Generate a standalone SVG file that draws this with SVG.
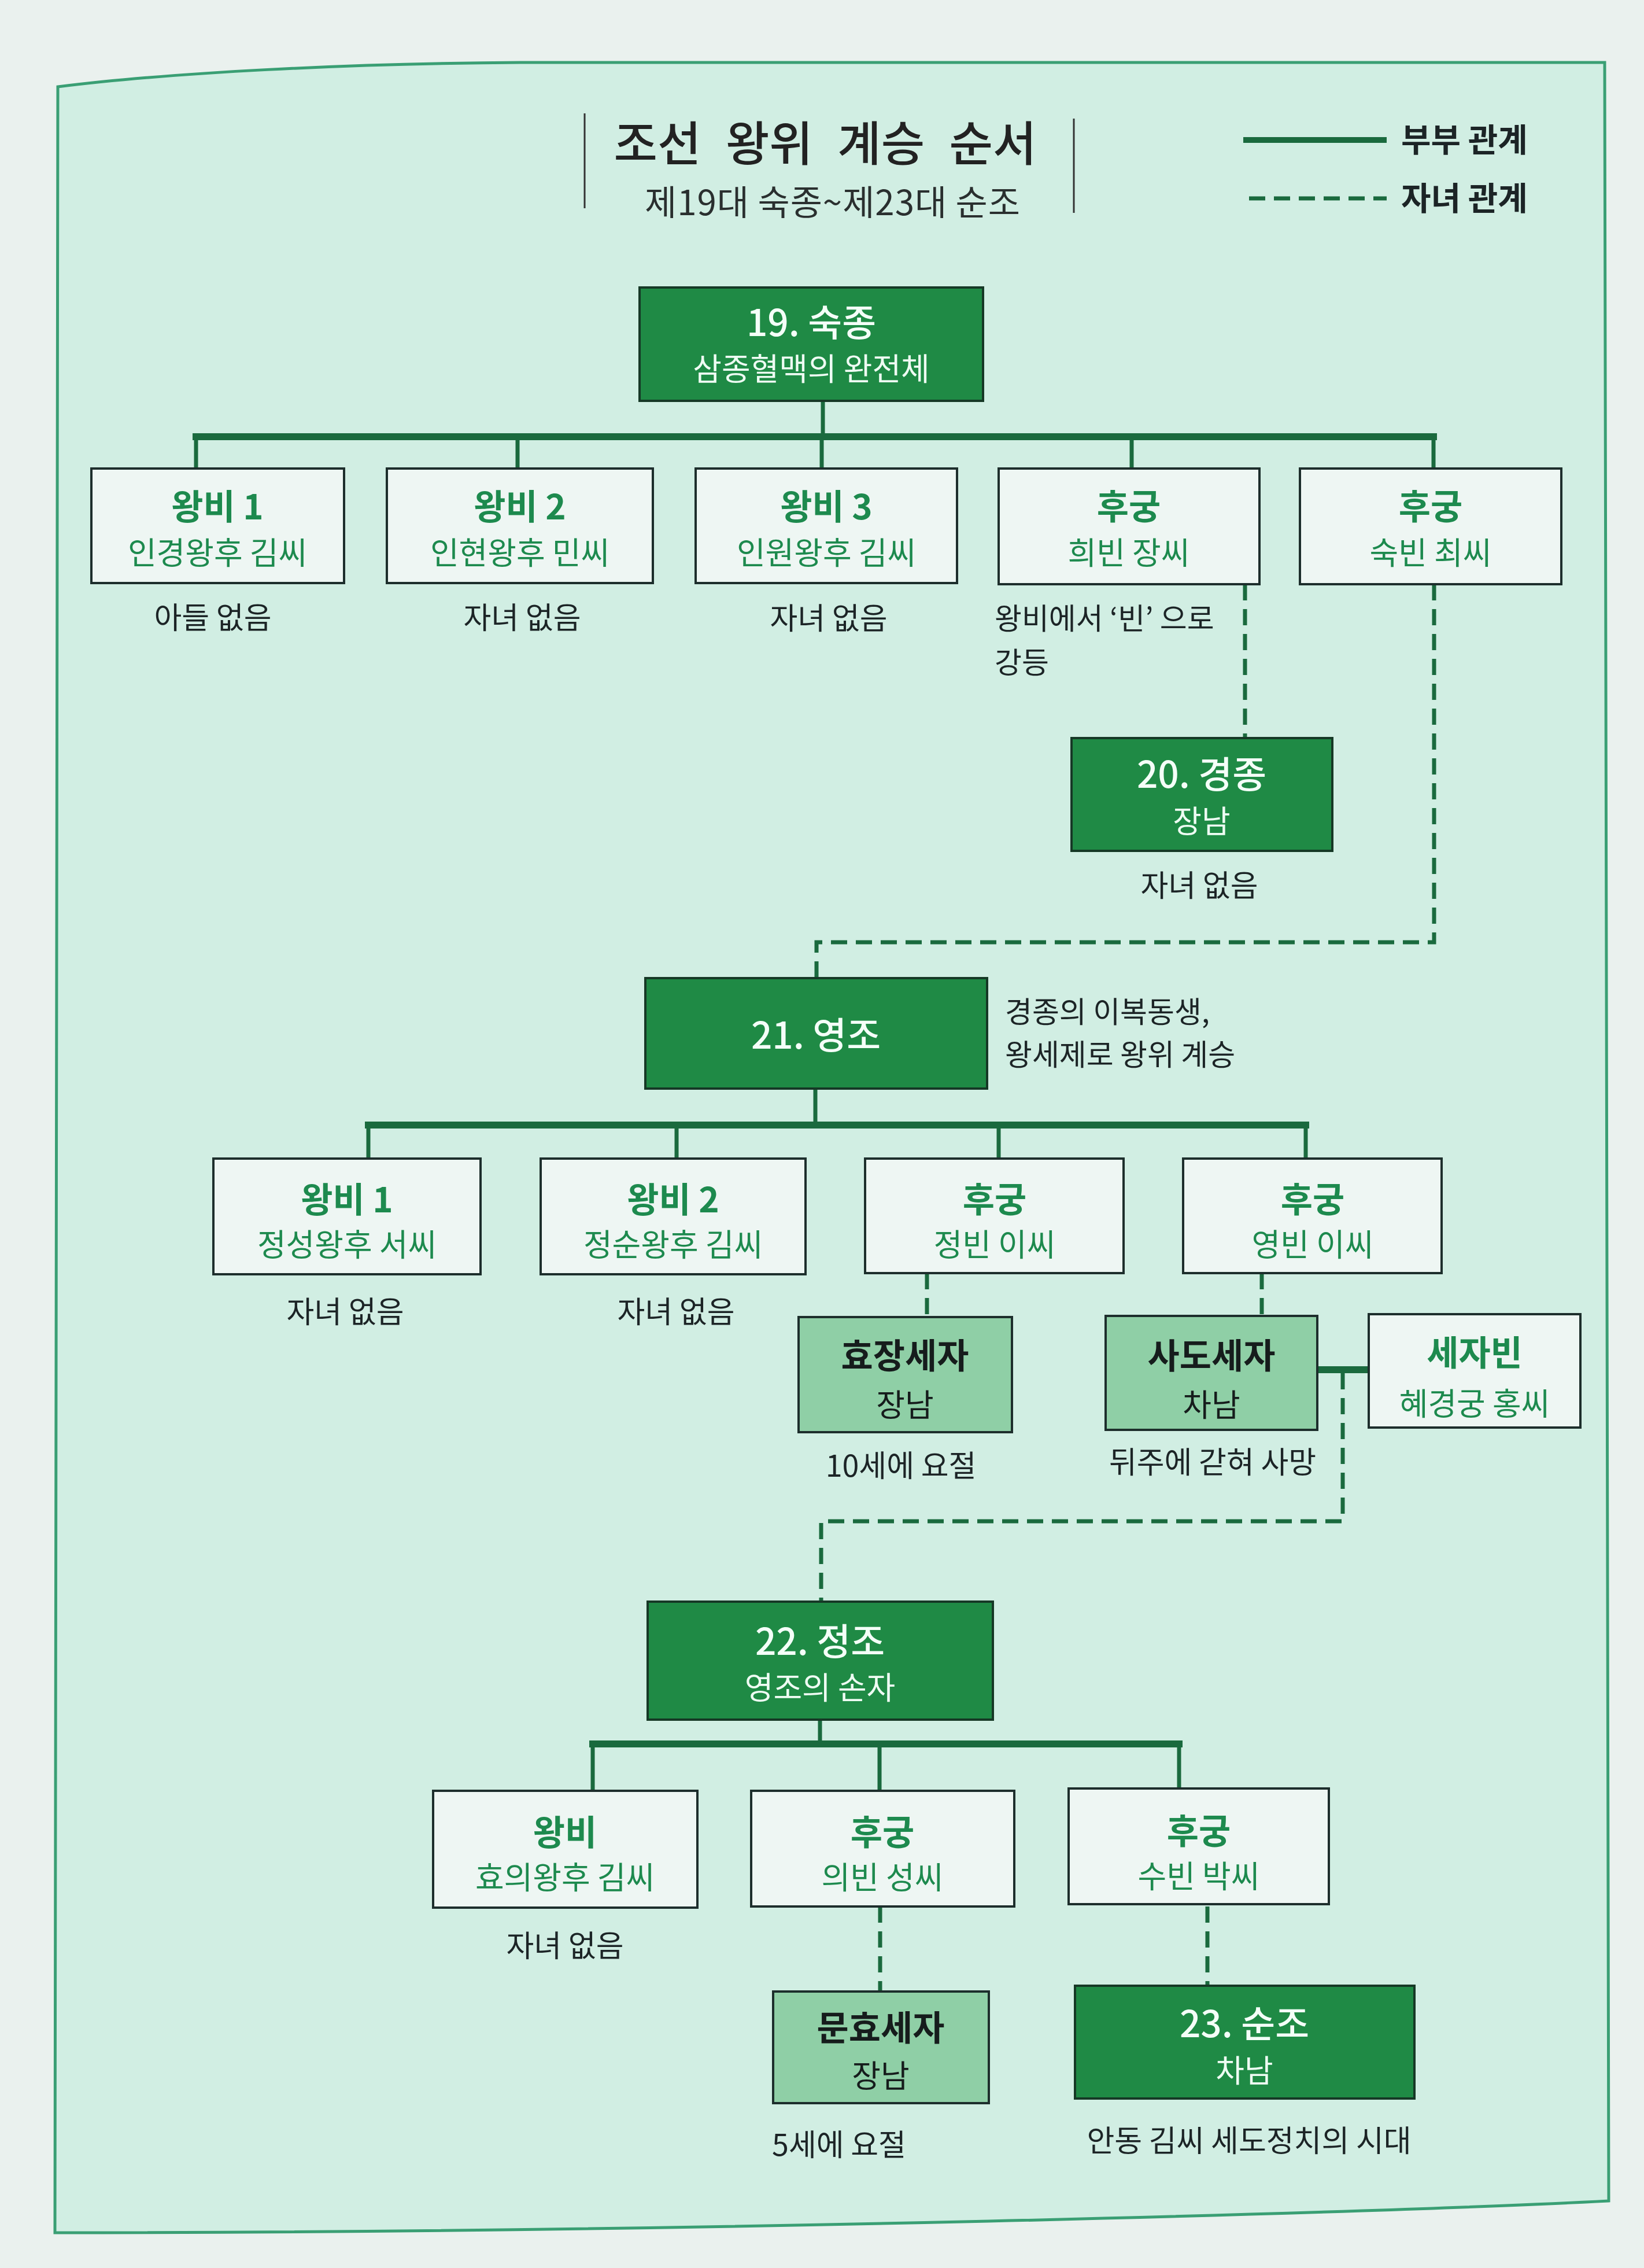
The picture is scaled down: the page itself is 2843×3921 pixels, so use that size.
<svg xmlns="http://www.w3.org/2000/svg" width="2843" height="3921" viewBox="0 0 2843 3921">
<style>
text{font-family:"Noto Sans CJK KR","Noto Sans",sans-serif}
.bw{fill:#eef6f3;stroke:#1d2e2c;stroke-width:4}
.bd{fill:#1f8a45;stroke:#163826;stroke-width:4}
.bl{fill:#8fcfa6;stroke:#1d2e2c;stroke-width:4}
.tg{fill:#1d8a4e;text-anchor:middle;font-size:60px;font-weight:700}
.sg{fill:#1d8a4e;text-anchor:middle;font-size:54px}
.tw{fill:#f4fff8;text-anchor:middle;font-size:64px;font-weight:500}
.sw{fill:#eefcf3;text-anchor:middle;font-size:54px}
.tk{fill:#161c1c;text-anchor:middle;font-size:60px;font-weight:700}
.sk{fill:#161c1c;text-anchor:middle;font-size:54px}
.note{fill:#1c2426;font-size:52px}
.n2{fill:#1c2426;font-size:51px}
.c{text-anchor:middle}
.solid{stroke:#1a6a3e;stroke-width:7;fill:none}
.bar{stroke:#1a6a3e;stroke-width:12;fill:none}
.dash{stroke:#1a6a3e;stroke-width:7;fill:none;stroke-dasharray:28 15}
</style>
<rect x="0" y="0" width="2843" height="3921" fill="#eaf1ee"/>
<path d="M100 150 C300 125 600 110 900 108 L2775 108 L2782 3805 C2400 3825 1200 3860 95 3860 Z" fill="#d1eee3" stroke="#3a9f74" stroke-width="5"/>

<g id="title">
<line x1="1011" y1="196" x2="1011" y2="360" stroke="#333" stroke-width="3"/>
<line x1="1857" y1="205" x2="1857" y2="368" stroke="#333" stroke-width="3"/>
<text x="1427" y="278" text-anchor="middle" font-size="82" font-weight="500" fill="#222" word-spacing="24">조선 왕위 계승 순서</text>
<text x="1440" y="372" text-anchor="middle" font-size="60" fill="#2a2f2f" letter-spacing="1">제19대 숙종~제23대 순조</text>
</g>

<g id="legend">
<line x1="2150" y1="242" x2="2398" y2="242" stroke="#1a6a3e" stroke-width="10"/>
<text x="2423" y="262" font-size="56" font-weight="700" fill="#1c2426">부부 관계</text>
<line x1="2160" y1="343" x2="2398" y2="343" class="dash" stroke-width="8"/>
<text x="2423" y="363" font-size="56" font-weight="700" fill="#1c2426">자녀 관계</text>
</g>

<g id="connectors">
<line x1="1423" y1="693" x2="1423" y2="755" class="solid"/>
<line x1="333" y1="755" x2="2485" y2="755" class="bar"/>
<line x1="339" y1="755" x2="339" y2="810" class="solid"/>
<line x1="895" y1="755" x2="895" y2="810" class="solid"/>
<line x1="1421" y1="755" x2="1421" y2="810" class="solid"/>
<line x1="1957" y1="755" x2="1957" y2="810" class="solid"/>
<line x1="2479" y1="755" x2="2479" y2="810" class="solid"/>
<line x1="2153" y1="1010" x2="2153" y2="1276" class="dash"/>
<path d="M2480 1010 L2480 1629 L1412 1629 L1412 1691" class="dash"/>
<line x1="1410" y1="1882" x2="1410" y2="1945" class="solid"/>
<line x1="631" y1="1945" x2="2264" y2="1945" class="bar"/>
<line x1="637" y1="1945" x2="637" y2="2003" class="solid"/>
<line x1="1170" y1="1945" x2="1170" y2="2003" class="solid"/>
<line x1="1727" y1="1945" x2="1727" y2="2003" class="solid"/>
<line x1="2258" y1="1945" x2="2258" y2="2003" class="solid"/>
<line x1="1603" y1="2201" x2="1603" y2="2277" class="dash"/>
<line x1="2182" y1="2201" x2="2182" y2="2275" class="dash"/>
<line x1="2278" y1="2368" x2="2367" y2="2368" class="bar"/>
<path d="M2322 2374 L2322 2630 L1420 2630 L1420 2769" class="dash"/>
<line x1="1418" y1="2973" x2="1418" y2="3015" class="solid"/>
<line x1="1019" y1="3015" x2="2045" y2="3015" class="bar"/>
<line x1="1025" y1="3015" x2="1025" y2="3096" class="solid"/>
<line x1="1521" y1="3015" x2="1521" y2="3096" class="solid"/>
<line x1="2039" y1="3015" x2="2039" y2="3096" class="solid"/>
<line x1="1522" y1="3296" x2="1522" y2="3443" class="dash"/>
<line x1="2088" y1="3296" x2="2088" y2="3433" class="dash"/>
</g>

<g id="n19"><rect x="1106" y="497" width="594" height="196" class="bd"/>
<text x="1403" y="581" class="tw">19. 숙종</text><text x="1403" y="658" class="sw">삼종혈맥의 완전체</text></g>

<g id="r1a"><rect x="158" y="810" width="437" height="198" class="bw"/>
<text x="376" y="898" class="tg">왕비 1</text><text x="376" y="976" class="sg">인경왕후 김씨</text></g>
<g id="r1b"><rect x="669" y="810" width="460" height="198" class="bw"/>
<text x="899" y="898" class="tg">왕비 2</text><text x="899" y="976" class="sg">인현왕후 민씨</text></g>
<g id="r1c"><rect x="1203" y="810" width="452" height="198" class="bw"/>
<text x="1429" y="898" class="tg">왕비 3</text><text x="1429" y="976" class="sg">인원왕후 김씨</text></g>
<g id="r1d"><rect x="1727" y="810" width="451" height="200" class="bw"/>
<text x="1952" y="898" class="tg">후궁</text><text x="1952" y="976" class="sg">희빈 장씨</text></g>
<g id="r1e"><rect x="2248" y="810" width="452" height="200" class="bw"/>
<text x="2474" y="898" class="tg">후궁</text><text x="2474" y="976" class="sg">숙빈 최씨</text></g>

<g id="notes1">
<text x="368" y="1087" class="note c">아들 없음</text>
<text x="903" y="1087" class="note c">자녀 없음</text>
<text x="1433" y="1088" class="note c">자녀 없음</text>
<text x="1720" y="1088" class="n2">왕비에서 ‘빈’ 으로</text>
<text x="1720" y="1164" class="n2">강등</text>
</g>

<g id="n20"><rect x="1853" y="1276" width="451" height="195" class="bd"/>
<text x="2078" y="1362" class="tw">20. 경종</text><text x="2078" y="1440" class="sw">장남</text></g>
<text x="2074" y="1550" class="note c">자녀 없음</text>

<g id="n21"><rect x="1116" y="1691" width="591" height="191" class="bd"/>
<text x="1411" y="1813" class="tw">21. 영조</text></g>
<text x="1738" y="1768" class="n2">경종의 이복동생,</text>
<text x="1738" y="1842" class="n2">왕세제로 왕위 계승</text>

<g id="r2a"><rect x="369" y="2003" width="462" height="200" class="bw"/>
<text x="600" y="2096" class="tg">왕비 1</text><text x="600" y="2172" class="sg">정성왕후 서씨</text></g>
<g id="r2b"><rect x="935" y="2003" width="458" height="200" class="bw"/>
<text x="1164" y="2096" class="tg">왕비 2</text><text x="1164" y="2172" class="sg">정순왕후 김씨</text></g>
<g id="r2c"><rect x="1496" y="2003" width="447" height="198" class="bw"/>
<text x="1720" y="2096" class="tg">후궁</text><text x="1720" y="2172" class="sg">정빈 이씨</text></g>
<g id="r2d"><rect x="2046" y="2003" width="447" height="198" class="bw"/>
<text x="2270" y="2096" class="tg">후궁</text><text x="2270" y="2172" class="sg">영빈 이씨</text></g>
<text x="597" y="2287" class="note c">자녀 없음</text>
<text x="1169" y="2287" class="note c">자녀 없음</text>

<g id="hyojang"><rect x="1381" y="2277" width="369" height="199" class="bl"/>
<text x="1565" y="2366" class="tk">효장세자</text><text x="1565" y="2449" class="sk">장남</text></g>
<g id="sado"><rect x="1912" y="2275" width="366" height="197" class="bl"/>
<text x="2095" y="2366" class="tk">사도세자</text><text x="2095" y="2449" class="sk">차남</text></g>
<g id="sejabin"><rect x="2367" y="2272" width="366" height="196" class="bw"/>
<text x="2550" y="2361" class="tg">세자빈</text><text x="2550" y="2447" class="sg">혜경궁 홍씨</text></g>
<text x="1558" y="2553" class="note c">10세에 요절</text>
<text x="2097" y="2547" class="note c">뒤주에 갇혀 사망</text>

<g id="n22"><rect x="1120" y="2769" width="597" height="204" class="bd"/>
<text x="1418" y="2861" class="tw">22. 정조</text><text x="1418" y="2938" class="sw">영조의 손자</text></g>

<g id="r3a"><rect x="749" y="3096" width="457" height="202" class="bw"/>
<text x="977" y="3190" class="tg">왕비</text><text x="977" y="3266" class="sg">효의왕후 김씨</text></g>
<g id="r3b"><rect x="1299" y="3096" width="455" height="200" class="bw"/>
<text x="1526" y="3190" class="tg">후궁</text><text x="1526" y="3266" class="sg">의빈 성씨</text></g>
<g id="r3c"><rect x="1848" y="3092" width="450" height="200" class="bw"/>
<text x="2073" y="3188" class="tg">후궁</text><text x="2073" y="3264" class="sg">수빈 박씨</text></g>
<text x="977" y="3383" class="note c">자녀 없음</text>

<g id="munhyo"><rect x="1337" y="3443" width="373" height="193" class="bl"/>
<text x="1523" y="3528" class="tk">문효세자</text><text x="1523" y="3609" class="sk">장남</text></g>
<g id="n23"><rect x="1859" y="3433" width="587" height="195" class="bd"/>
<text x="2152" y="3522" class="tw">23. 순조</text><text x="2152" y="3600" class="sw">차남</text></g>
<text x="1451" y="3727" class="note c">5세에 요절</text>
<text x="2160" y="3720" class="note c">안동 김씨 세도정치의 시대</text>
</svg>
